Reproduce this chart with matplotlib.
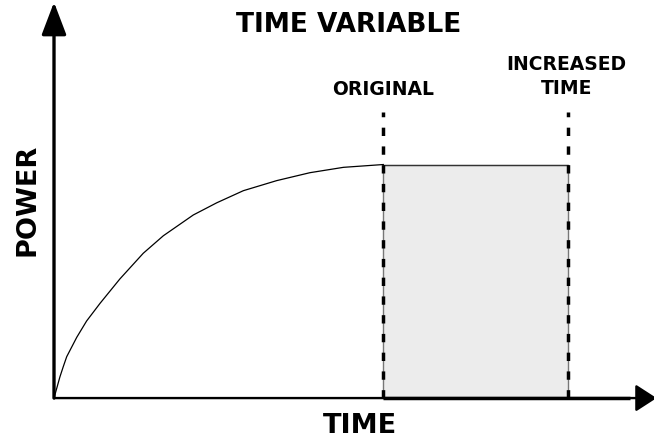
import matplotlib
matplotlib.use("Agg")
import matplotlib.pyplot as plt
from matplotlib.patches import Rectangle

plt.rcParams['font.family'] = ['DejaVu Sans']
plt.rcParams['lines.scale_dashes'] = False

# Data (time units: original time = 10; power normalized to plateau = 1)
time_values = [0, 0.18, 0.28, 0.385, 0.69, 0.99, 1.40, 2.00, 2.71, 3.32, 4.23, 4.94,
               5.75, 6.76, 7.77, 8.79, 10.0]
power_values = [0, 0.091, 0.134, 0.177, 0.26, 0.33, 0.406, 0.51, 0.62, 0.695, 0.784, 0.836,
                0.888, 0.931, 0.965, 0.988, 1.0]
original_time = 10.0
increased_time = 15.6
plateau_power = 1.0
axis_x_end = 18.3
axis_y_end = 1.695

title_text = "TIME VARIABLE"
xlabel_text = "TIME"
ylabel_text = "POWER"
original_label = "ORIGINAL"
increased_label = "INCREASED\nTIME"

fig = plt.figure(figsize=(6.54, 4.38), dpi=100)
ax = fig.add_axes([0, 0, 1, 1])
ax.set_xlim(-1.64, 18.22)
ax.set_ylim(-0.171, 1.7045)
ax.axis('off')

# shaded region
ax.add_patch(Rectangle((original_time, 0), increased_time - original_time, plateau_power,
                       facecolor='#ececec', edgecolor='#777777', linewidth=1.0, zorder=1))
# plateau continuation
ax.plot([original_time, increased_time], [plateau_power, plateau_power], color='#333333', lw=0.9, zorder=2)

# curve
ax.plot(time_values, power_values, color='black', lw=0.9, zorder=3, solid_joinstyle='round')

# dashed markers
dash_top = 1.227
for xv in (original_time, increased_time):
    ax.plot([xv, xv], [0, dash_top], color='black', lw=2.5, dashes=(6, 7.5), zorder=4,
            dash_capstyle='butt')

# axes with arrows
ax.annotate('', xy=(0, axis_y_end), xytext=(0, 0), annotation_clip=False,
            arrowprops=dict(arrowstyle='-|>,head_length=1.0,head_width=0.38', lw=2.4,
                            color='black', mutation_scale=20, shrinkA=0, shrinkB=0), zorder=5)
ax.annotate('', xy=(axis_x_end, 0), xytext=(0, 0), annotation_clip=False,
            arrowprops=dict(arrowstyle='-|>,head_length=0.65,head_width=0.42', lw=1.7,
                            color='black', mutation_scale=20, shrinkA=0, shrinkB=0), zorder=5)
ax.plot([original_time, 17.5], [0, 0], color='black', lw=2.5, solid_capstyle='butt', zorder=5)

# texts
ax.text(8.96, 1.567, title_text, ha='center', va='baseline', fontsize=19, fontweight='bold')
ax.text(original_time, 1.298, original_label, ha='center', va='baseline', fontsize=13.5,
        fontweight='bold')
ax.text(increased_time - 0.03, 1.378, increased_label, ha='center', va='center', fontsize=13.5,
        fontweight='bold', linespacing=1.35)
ax.text(9.28, -0.150, xlabel_text, ha='center', va='baseline', fontsize=19.5, fontweight='bold')
ax.text(-0.82, 0.848, ylabel_text, ha='center', va='center', fontsize=19.5, fontweight='bold',
        rotation=90)

fig.savefig('out.png', dpi=100)
